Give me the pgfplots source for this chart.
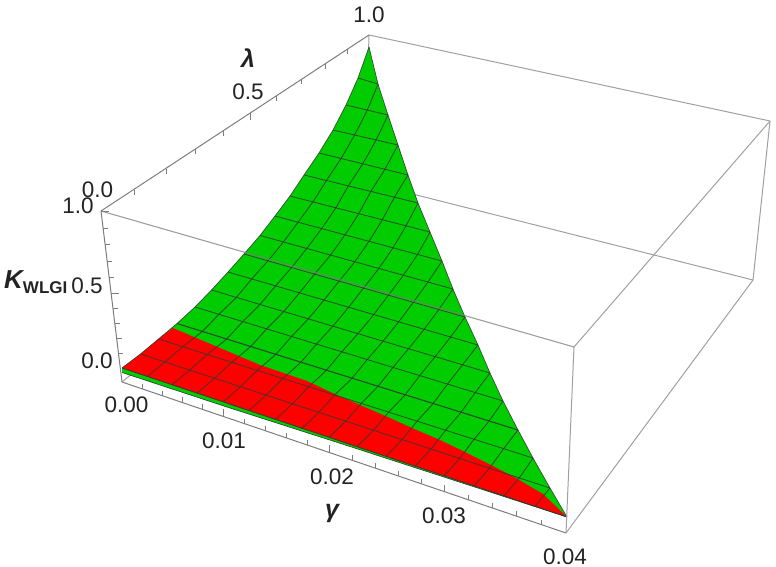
\documentclass[border=0pt]{standalone}
\usepackage{fontspec}
\setmainfont{Liberation Sans}
\usepackage{pgfplots}
\pgfplotsset{compat=1.18}
\definecolor{sgreen}{RGB}{0,204,0}
\definecolor{sred}{RGB}{255,0,0}
\definecolor{boxc}{RGB}{160,160,160}
\definecolor{axc}{RGB}{125,125,125}
\definecolor{meshc}{RGB}{50,55,50}
\definecolor{txt}{RGB}{35,35,35}
\tikzset{
  bxl/.style={boxc,line width=1pt},
  axl/.style={axc,line width=1pt},
  msl/.style={meshc,line width=0.8pt,opacity=0.85},
  tl/.style={text=txt,font=\fontsize{22.5}{24}\selectfont,inner sep=0pt}}
\begin{document}
\begin{tikzpicture}[x=1pt,y=1pt]
\path[use as bounding box] (0,0) rectangle (776,567);
\begin{axis}[at={(0,0)},anchor=south west,scale only axis,width=776pt,height=567pt,
  xmin=0,xmax=776,ymin=0,ymax=567,y dir=reverse,hide axis,clip=false]
% hidden box edges (behind the surface)
\addplot[bxl] coordinates {(369,35)(365,182)};
\addplot[bxl] coordinates {(365,182)(753,280)};
\addplot[bxl] coordinates {(365,182)(122,382)};
% green surface
\addplot[fill=sgreen,draw=none] coordinates {(369,47)(358,78)(346,105)(333,130)(319,153)(304,175)(290,196)(275,216)(260,235.5)(244,254)(228,272)(211.5,290)(195,307)(177,323.5)(158.5,339)(140.5,354)(122,368)(567,517)(550,488)(533,458)(518,430)(503,401)(490,373)(478,345)(465,317)(453,289)(442,261)(430,232)(418,203)(408,175)(398,145)(388,115)(378,84)} -- cycle;
% thin underside strip
\addplot[fill=sgreen,draw=none] coordinates {(122,368)(122,372.5)(230,408)(350,446.5)(450,479)(567,517)} -- cycle;
% red surface
\addplot[fill=sred,draw=none] coordinates {(122,368)(140.5,354)(158.5,339)(173,328)(180,331)(260,365)(307,381)(337,395)(390,418)(412,428)(440,440)(465,452)(493,466)(515,477.5)(543,494)(567,517)} -- cycle;
% constant lambda mesh lines
\addplot[msl] coordinates {(140.5,354)(550,488)};
\addplot[msl] coordinates {(158.5,339)(533,458)};
\addplot[msl,line width=1.1pt] coordinates {(177,323.5)(518,430)};
\addplot[msl] coordinates {(195,307)(503,401)};
\addplot[msl] coordinates {(211.5,290)(490,373)};
\addplot[msl] coordinates {(228,272)(478,345)};
\addplot[msl] coordinates {(244,254)(465,317)};
\addplot[msl] coordinates {(260,235.5)(453,289)};
\addplot[msl] coordinates {(275,216)(442,261)};
\addplot[msl] coordinates {(290,196)(430,232)};
\addplot[msl] coordinates {(304,175)(418,203)};
\addplot[msl] coordinates {(319,153)(408,175)};
\addplot[msl] coordinates {(333,130)(398,145)};
\addplot[msl] coordinates {(346,105)(388,115)};
\addplot[msl] coordinates {(358,78)(378,84)};
% constant gamma mesh lines
\addplot[msl,smooth] coordinates {(147,376.4)(164.8,362.1)(182.5,346.8)(202.1,331.5)(218.9,314.3)(235.7,298)(251.7,279)(268,260.7)(283.3,242)(298.2,222)(312.8,201.9)(326.5,180.5)(341,158.4)(354.5,135)(367,110.5)(378,84)};
\addplot[msl,smooth] coordinates {(172,384.7)(189.6,370.2)(207.1,354.6)(226.3,339.1)(242.8,321.6)(259.4,305)(275.3,286.2)(291.8,267.2)(306.6,248.6)(321.4,228.8)(335.6,208)(348.3,186)(362.6,163.9)(376,140)(388,115)};
\addplot[msl,smooth] coordinates {(197,393.1)(214.5,378.3)(231.6,362.4)(250.4,346.6)(266.7,328.9)(283.2,312)(299,293.4)(315.2,273.4)(329.9,255.8)(344.6,235.3)(358.4,214.1)(370.9,191.5)(384.8,169.3)(398,145)};
\addplot[msl,smooth] coordinates {(223,401.8)(240.3,386.8)(257.2,370.5)(275.6,354.4)(291.6,336.5)(307.8,319.3)(323.6,300.5)(339.6,280.5)(354.2,262.4)(368.7,241.7)(382.1,220)(394.5,197.2)(408,175)};
\addplot[msl,smooth] coordinates {(249,410.5)(266,395.2)(282.7,378.6)(300.7,362.3)(316.5,344.1)(332.5,326.5)(348.3,307.6)(363.9,287.6)(378.4,268.9)(392.8,248)(405.8,226)(418,203)};
\addplot[msl,smooth] coordinates {(275.5,419.4)(292.4,403.8)(308.7,386.8)(326.3,370.2)(341.8,351.8)(357.6,334)(373.4,314.9)(388.7,294.8)(403.1,275.5)(417.4,254.5)(430,232)};
\addplot[msl,smooth] coordinates {(302,428.3)(318.7,412.4)(334.7,395.1)(351.9,378.2)(367.2,359.6)(382.8,341.4)(398.5,322.1)(413.5,301.9)(427.8,282.2)(442,261)};
\addplot[msl,smooth] coordinates {(329,437.3)(345.5,421.2)(361.2,403.5)(377.9,386.3)(393,367.4)(408.4,348.9)(424,329.4)(438.8,309.4)(453,289)};
\addplot[msl,smooth] coordinates {(357,446.7)(373.3,430.2)(388.7,412.2)(405,394.8)(419.8,375.6)(435,356.8)(450.5,337.1)(465,317)};
\addplot[msl,smooth] coordinates {(386,456.4)(402,439.6)(417.2,421.2)(433,403.5)(447.5,384.1)(462.5,364.9)(478,345)};
\addplot[msl,smooth] coordinates {(415,466.1)(430.9,449.1)(445.6,430.3)(461,412.2)(475.3,392.5)(490,373)};
\addplot[msl,smooth] coordinates {(444,475.8)(459.6,458.4)(474.1,439.3)(489,421)(503,401)};
\addplot[msl,smooth] coordinates {(474,485.8)(489.4,468.2)(503.6,448.7)(518,430)};
\addplot[msl,smooth] coordinates {(504,495.9)(519.2,477.9)(533,458)};
\addplot[msl] coordinates {(535,506.3)(550,488)};
% surface boundary
\addplot[msl,line width=0.7pt] coordinates {(369,47)(358,78)(346,105)(333,130)(319,153)(304,175)(290,196)(275,216)(260,235.5)(244,254)(228,272)(211.5,290)(195,307)(177,323.5)(158.5,339)(140.5,354)(122,368)};
\addplot[msl,line width=0.7pt] coordinates {(369,47)(378,84)(388,115)(398,145)(408,175)(418,203)(430,232)(442,261)(453,289)(465,317)(478,345)(490,373)(503,401)(518,430)(533,458)(550,488)(567,517)};
\addplot[meshc,line width=0.8pt] coordinates {(122,368)(567,517)};
\addplot[meshc,line width=0.6pt] coordinates {(122,372.5)(230,408)(350,446.5)(450,479)(567,517)};
% front box edges
\addplot[axc,line width=1.1pt,opacity=0.75] coordinates {(101,211)(574,347)};
\addplot[bxl] coordinates {(574,347)(566,533)};
\addplot[bxl] coordinates {(574,347)(770,121)};
\addplot[bxl] coordinates {(369,35)(770,121)};
\addplot[bxl] coordinates {(770,121)(753,280)};
\addplot[bxl] coordinates {(753,280)(566,533)};
\addplot[axl] coordinates {(101,211)(369,35)};
\addplot[axl] coordinates {(101,211)(122,382)};
\addplot[axl] coordinates {(122,382)(566,533)};
% z ticks
\addplot[axl] coordinates {(101,211)(109,211)};
\addplot[axl] coordinates {(103,228)(108,228)};
\addplot[axl] coordinates {(105,244)(110,244)};
\addplot[axl] coordinates {(107,261)(112,261)};
\addplot[axl] coordinates {(109,277)(114,277)};
\addplot[axl] coordinates {(111,293)(119,293)};
\addplot[axl] coordinates {(113,308)(118,308)};
\addplot[axl] coordinates {(115,323)(120,323)};
\addplot[axl] coordinates {(117,338)(122,338)};
\addplot[axl] coordinates {(118,353)(123,353)};
% lambda ticks
\addplot[axl] coordinates {(134,189.5)(134,195)};
\addplot[axl] coordinates {(166,168.5)(166,174)};
\addplot[axl] coordinates {(195,149)(195,154)};
\addplot[axl] coordinates {(223,131)(223,136)};
\addplot[axl] coordinates {(250,113)(250,120)};
\addplot[axl] coordinates {(276,96)(276,101)};
\addplot[axl] coordinates {(301,79.5)(301,84.5)};
\addplot[axl] coordinates {(325,64)(325,69)};
\addplot[axl] coordinates {(347,49.5)(347,54.5)};
% gamma ticks
\addplot[axl] coordinates {(142,388.8)(142,383.8)};
\addplot[axl] coordinates {(162,395.6)(162,390.6)};
\addplot[axl] coordinates {(182,402.4)(182,397.4)};
\addplot[axl] coordinates {(202,409.2)(202,404.2)};
\addplot[axl] coordinates {(223,416.3)(223,409.3)};
\addplot[axl] coordinates {(244,423.5)(244,418.5)};
\addplot[axl] coordinates {(265,430.6)(265,425.6)};
\addplot[axl] coordinates {(286,437.8)(286,432.8)};
\addplot[axl] coordinates {(307,444.9)(307,439.9)};
\addplot[axl] coordinates {(329,452.4)(329,445.4)};
\addplot[axl] coordinates {(352,460.2)(352,455.2)};
\addplot[axl] coordinates {(375,468)(375,463)};
\addplot[axl] coordinates {(398,475.9)(398,470.9)};
\addplot[axl] coordinates {(421,483.7)(421,478.7)};
\addplot[axl] coordinates {(444,491.5)(444,484.5)};
\addplot[axl] coordinates {(468,499.7)(468,494.7)};
\addplot[axl] coordinates {(492,507.8)(492,502.8)};
\addplot[axl] coordinates {(516,516)(516,511)};
\addplot[axl] coordinates {(541,524.5)(541,519.5)};
% labels
\node[tl] at (369,14.5) {1.0};
\node[tl] at (248,91.5) {0.5};
\node[tl] at (97.5,190) {0.0};
\node[tl] at (78,206) {1.0};
\node[tl] at (87,286) {0.5};
\node[tl] at (97,361) {0.0};
\node[tl] at (126.5,405) {0.00};
\node[tl] at (224,440.5) {0.01};
\node[tl] at (332,476.5) {0.02};
\node[tl] at (444,516) {0.03};
\node[tl] at (565,557) {0.04};
\node[text=txt,font=\fontsize{25}{27}\selectfont\bfseries\itshape,inner sep=0pt] at (248,58) {λ};
\node[text=txt,font=\fontsize{25}{27}\selectfont\bfseries\itshape,inner sep=0pt] at (332,513) {γ};
\node[text=txt,inner sep=0pt,anchor=base west] at (4,288) {{\fontsize{26}{28}\selectfont\bfseries\itshape K}{\fontsize{17}{19}\selectfont\bfseries\raisebox{-5pt}{WLGI}}};
\end{axis}
\end{tikzpicture}
\end{document}
